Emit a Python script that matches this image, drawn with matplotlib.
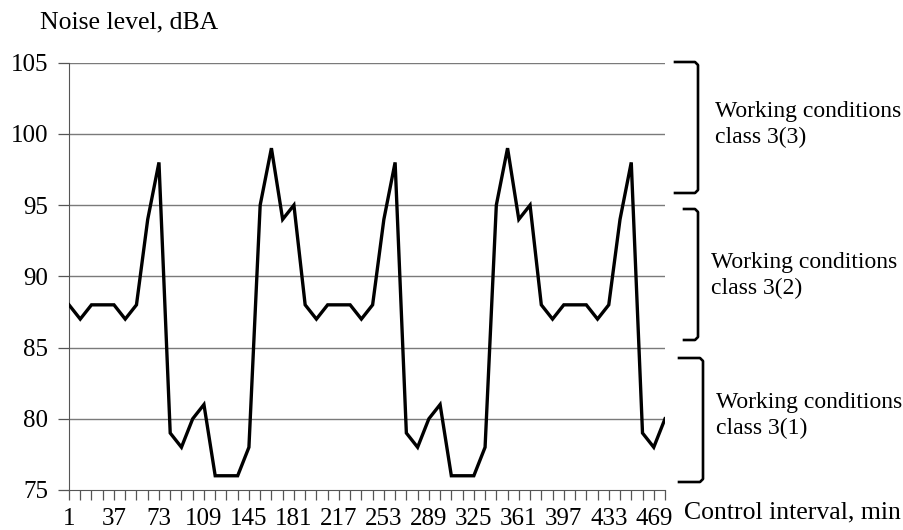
import matplotlib
matplotlib.use("Agg")
import matplotlib.pyplot as plt
from matplotlib.lines import Line2D

# Data
minutes = [1 + 9 * i for i in range(54)]
noise = [88, 87, 88, 88, 88, 87, 88, 94, 98, 79, 78, 80, 81, 76, 76, 76, 78,
         95, 99, 94, 95,
         88, 87, 88, 88, 88, 87, 88, 94, 98, 79, 78, 80, 81, 76, 76, 76, 78,
         95, 99, 94, 95,
         88, 87, 88, 88, 88, 87, 88, 94, 98, 79, 78, 80]
yticks = [75, 80, 85, 90, 95, 100, 105]
label_every = 4
y_label = "Noise level, dBA"
x_label = "Control interval, min"
zones = ["Working conditions\nclass 3(3)",
         "Working conditions\nclass 3(2)",
         "Working conditions\nclass 3(1)"]

plt.rcParams['font.family'] = ['Liberation Serif', 'DejaVu Serif']

W, H = 904, 530
fig = plt.figure(figsize=(W / 100, H / 100), dpi=100)
ax = fig.add_axes([69 / W, 1 - 490 / H, (665 - 69) / W, (490 - 62.7) / H])

ax.plot(minutes, noise, color='black', lw=2.4, solid_joinstyle='miter', zorder=3)

ax.set_xlim(minutes[0], minutes[-1])
ax.set_ylim(yticks[0], yticks[-1])
ax.set_yticks(yticks)
ax.set_yticklabels([str(v) for v in yticks])
ax.set_xticks(minutes)
ax.set_xticklabels([str(m) if i % label_every == 0 else "" for i, m in enumerate(minutes)])

for v in yticks[1:]:
    ax.axhline(v, color='#7a7a7a', lw=1.0, zorder=1)

for s in ['top', 'right']:
    ax.spines[s].set_visible(False)
ax.spines['left'].set_color('#555555')
ax.spines['bottom'].set_color('#555555')

ax.tick_params(axis='x', direction='in', length=7, width=0.9, color='#555555',
               labelsize=18, pad=13)
ax.tick_params(axis='y', direction='out', length=8, width=0.9, color='#555555',
               labelsize=18, pad=7)
for t in ax.xaxis.get_major_ticks():
    t.tick1line.set_marker(3)  # tick drawn below the axis
    t.tick1line.set_markersize(7)

fig.text(40 / W, 1 - 22 / H, y_label, fontsize=18.5, ha='left', va='center')
fig.text(684 / W, 1 - 512 / H, x_label, fontsize=18.5, ha='left', va='center')

# Brackets (figure pixel coordinates)
def bracket(x_left, x_v, y_top, y_bot):
    xs = [x_left, x_v - 3, x_v, x_v, x_v - 3, x_left]
    ys = [y_top, y_top, y_top + 3, y_bot - 3, y_bot, y_bot]
    fig.add_artist(Line2D([x / W for x in xs], [1 - y / H for y in ys],
                          color='black', lw=1.9, solid_joinstyle='round'))

bracket(675, 698, 62, 193)
bracket(684, 698, 209, 340)
bracket(679, 703, 358, 482)

txt_pos = [(715, 125), (711, 276), (716, 416)]
for (tx, ty), s in zip(txt_pos, zones):
    fig.text(tx / W, 1 - ty / H, s, fontsize=17, ha='left', va='center',
             linespacing=1.3)

fig.savefig("out.png", dpi=100)
